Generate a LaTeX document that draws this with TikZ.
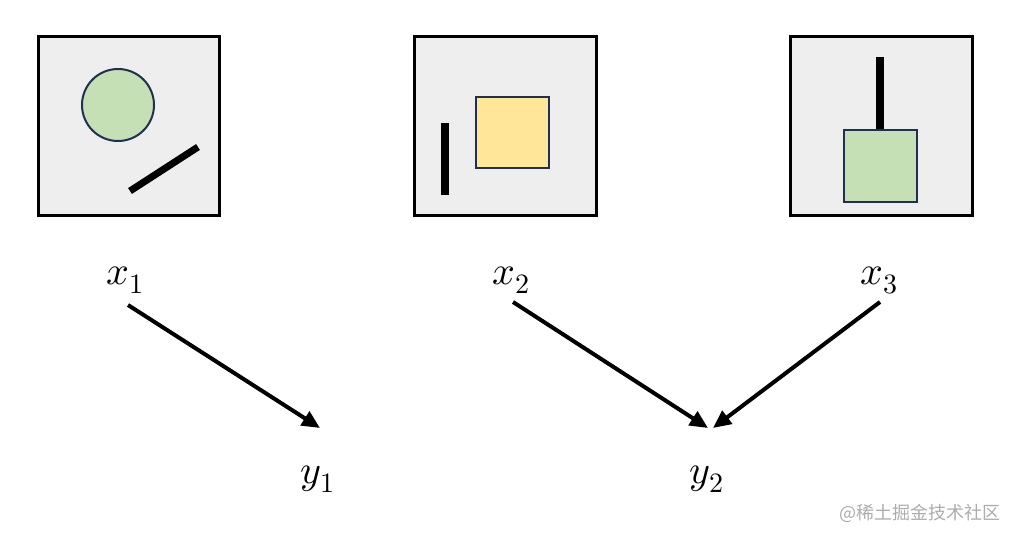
\documentclass[tikz,border=0pt]{standalone}
\usepackage{fontspec}
\usepackage{unicode-math}
\setmathfont{Latin Modern Math}
\newfontfamily\cjk{Noto Sans CJK SC}
\usetikzlibrary{arrows.meta,calc}
\definecolor{panelbg}{HTML}{EEEEEE}
\definecolor{navy}{HTML}{1F3050}
\definecolor{lgreen}{HTML}{C5E0B4}
\definecolor{lyellow}{HTML}{FFE699}
\definecolor{wmgray}{HTML}{ACACAC}
\tikzset{
  panel/.style={draw=black,fill=panelbg,line width=3pt},
  shapebox/.style={draw=navy,line width=2pt},
  bar/.style={line width=7pt,black},
  lbl/.style={anchor=base,inner sep=0pt,font=\fontsize{40}{46}\selectfont},
  arr/.style={line width=4pt,-{Triangle[length=18pt,width=16pt]}},
}
\begin{document}
\begin{tikzpicture}[x=1pt,y=-1pt]
\useasboundingbox (0,0) rectangle (1018,540);
% panels
\draw[panel] (38,37) rectangle (219,216);
\draw[panel] (414,37) rectangle (596,216);
\draw[panel] (790,37) rectangle (972,216);
% panel 1
\draw[shapebox,fill=lgreen] (118,105) circle (36);
\draw[bar] (130,191) -- (198,147);
% panel 2
\draw[shapebox,fill=lyellow] (476,97) rectangle (549,168);
\draw[bar,line width=8pt] (445,123) -- (445,195);
% panel 3
\draw[bar,line width=8pt] (880,57) -- (880,130);
\draw[shapebox,fill=lgreen] (844,130) rectangle (917,202);
% labels
\node[lbl] (x1) at (125,284) {$x_1$};
\node[lbl] (x2) at (511,284) {$x_2$};
\node[lbl] (x3) at (879,284) {$x_3$};
\node[lbl] (y1) at (318,483) {$y_1$};
\node[lbl] (y2) at (707,483) {$y_2$};
% arrows
\draw[arr] ($(x1.base)+(3,21)$) -- ($(y1.base)+(2,-55)$);
\draw[arr] ($(x2.base)+(2,18)$) -- ($(y2.base)+(1,-55)$);
\draw[arr] ($(x3.base)+(1,18)$) -- ($(y2.base)+(6,-55)$);
% watermark
\node[anchor=east,inner sep=0pt,text=wmgray,font=\cjk\fontsize{18}{21}\selectfont] (wm) at (1001,513) {@稀土掘金技术社区};
\end{tikzpicture}
\end{document}
